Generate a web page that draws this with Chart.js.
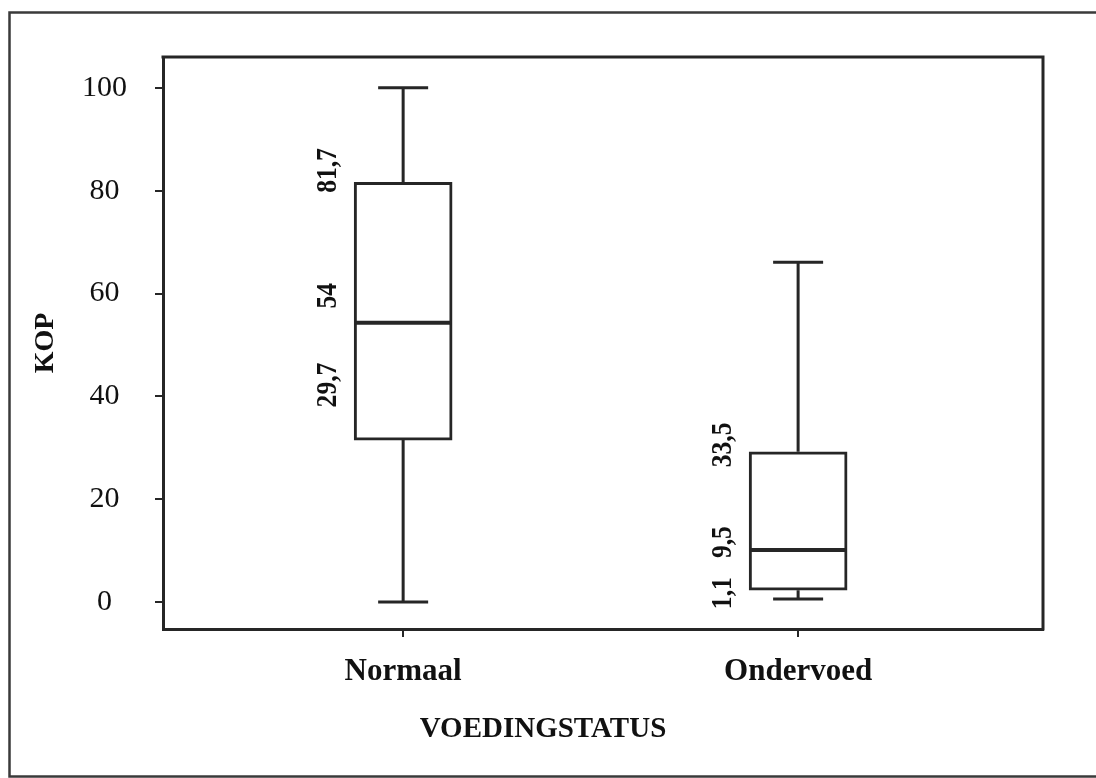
<!DOCTYPE html>
<html>
<head>
<meta charset="utf-8">
<script src="https://cdn.jsdelivr.net/npm/chart.js@4.4.0/dist/chart.umd.min.js"></script>
<style>
  html, body { margin: 0; padding: 0; background: #fff; }
</style>
</head>
<body>
<canvas id="myChart" width="1096" height="778"></canvas>
<script>
// values
const categories = ['Normaal', 'Ondervoed'];
const whiskerLow = [0, 0.6];
const boxLow = [31.5, 2.3];
const medians = [54.3, 10.1];
const boxHigh = [81.6, 29.2];
const whiskerHigh = [100, 66.1];
// labels written next to each box (q3, median, q1)
const valueLabels = [['81,7', '54', '29,7'], ['33,5', '9,5', '1,1']];
const yTicks = [0, 20, 40, 60, 80, 100];

const ink = '#262626';
const serif = "'Liberation Serif', 'Times New Roman', serif";

// pixel nudges for the hand-placed value labels
const labelShift = [[-12, -27, -55], [-7, -8, 3]];

const frame = {
    id: 'frame',
    beforeDraw(chart) {
        const ctx = chart.ctx;
        ctx.save();
        ctx.strokeStyle = '#3a3a3a';
        ctx.lineWidth = 2.5;
        ctx.strokeRect(9.5, 12.5, 1100, 764);
        ctx.restore();
    },
    afterDraw(chart) {
        const ctx = chart.ctx;
        const a = chart.chartArea;
        ctx.save();
        ctx.strokeStyle = ink;
        ctx.lineWidth = 3;
        ctx.beginPath();
        ctx.moveTo(a.left - 1.5, a.top);
        ctx.lineTo(a.right, a.top);
        ctx.lineTo(a.right, a.bottom + 1.5);
        ctx.stroke();
        // x axis title
        ctx.fillStyle = '#111';
        ctx.font = 'bold 29px ' + serif;
        ctx.textAlign = 'center';
        ctx.textBaseline = 'middle';
        ctx.fillText('VOEDINGSTATUS', a.left + 380, a.bottom + 101);
        ctx.restore();
    }
};

const boxWhisker = {
    id: 'boxWhisker',
    afterDatasetsDraw(chart) {
        const ctx = chart.ctx;
        const xs = chart.scales.x;
        const ys = chart.scales.y;
        ctx.save();
        ctx.strokeStyle = ink;
        for (let i = 0; i < categories.length; i++) {
            const x = xs.getPixelForValue(i + 1);
            ctx.lineWidth = 3;
            ctx.beginPath();
            ctx.moveTo(x, ys.getPixelForValue(boxHigh[i]));
            ctx.lineTo(x, ys.getPixelForValue(whiskerHigh[i]));
            ctx.moveTo(x, ys.getPixelForValue(boxLow[i]));
            ctx.lineTo(x, ys.getPixelForValue(whiskerLow[i]));
            ctx.moveTo(x - 25, ys.getPixelForValue(whiskerHigh[i]));
            ctx.lineTo(x + 25, ys.getPixelForValue(whiskerHigh[i]));
            ctx.moveTo(x - 25, ys.getPixelForValue(whiskerLow[i]));
            ctx.lineTo(x + 25, ys.getPixelForValue(whiskerLow[i]));
            ctx.stroke();

            ctx.lineWidth = 4;
            ctx.beginPath();
            ctx.moveTo(x - 48, ys.getPixelForValue(medians[i]));
            ctx.lineTo(x + 48, ys.getPixelForValue(medians[i]));
            ctx.stroke();

            const anchors = [boxHigh[i], medians[i], boxLow[i]];
            ctx.fillStyle = '#111';
            ctx.font = 'bold 29px ' + serif;
            ctx.textAlign = 'center';
            ctx.textBaseline = 'middle';
            for (let k = 0; k < 3; k++) {
                ctx.save();
                ctx.translate(x - 75, ys.getPixelForValue(anchors[k]) + labelShift[i][k]);
                ctx.rotate(-Math.PI / 2);
                ctx.scale(0.88, 1);
                ctx.fillText(valueLabels[i][k], 0, 0);
                ctx.restore();
            }
        }
        ctx.restore();
    }
};

const ctx = document.getElementById('myChart').getContext('2d');
const myChart = new Chart(ctx, {
    type: 'bar',
    data: {
        datasets: [{
            label: 'KOP',
            data: categories.map((c, i) => ({ x: i + 1, y: [boxLow[i], boxHigh[i]] })),
            backgroundColor: '#ffffff',
            borderColor: ink,
            borderWidth: 3,
            borderSkipped: false,
            barThickness: 98
        }]
    },
    options: {
        responsive: false,
        animation: false,
        layout: { padding: { top: 57, right: 53, bottom: 0, left: 0 } },
        plugins: {
            legend: { display: false },
            tooltip: { enabled: false }
        },
        scales: {
            x: {
                type: 'linear',
                offset: false,
                min: 0.392,
                max: 2.62,
                afterBuildTicks: s => { s.ticks = categories.map((c, i) => ({ value: i + 1 })); },
                afterFit: s => { s.height = 149; },
                ticks: {
                    callback: v => categories[v - 1],
                    color: '#111',
                    padding: 16,
                    maxRotation: 0,
                    font: { family: serif, size: 31, weight: 'bold' }
                },
                grid: { offset: false, drawOnChartArea: false, tickLength: 8, color: ink, lineWidth: 2 },
                border: { color: ink, width: 3 }
            },
            y: {
                min: -5.25,
                max: 106,
                afterBuildTicks: s => { s.ticks = yTicks.map(v => ({ value: v })); },
                afterFit: s => { s.width = 163; },
                ticks: {
                    color: '#111',
                    padding: 28,
                    crossAlign: 'center',
                    font: { family: serif, size: 30 }
                },
                grid: { drawOnChartArea: false, tickLength: 8, color: ink, lineWidth: 2 },
                border: { color: ink, width: 3 },
                title: {
                    display: true,
                    text: 'KOP',
                    color: '#111',
                    padding: { top: 29, bottom: 0 },
                    font: { family: serif, size: 28, weight: 'bold' }
                }
            }
        }
    },
    plugins: [frame, boxWhisker]
});
</script>
</body>
</html>
